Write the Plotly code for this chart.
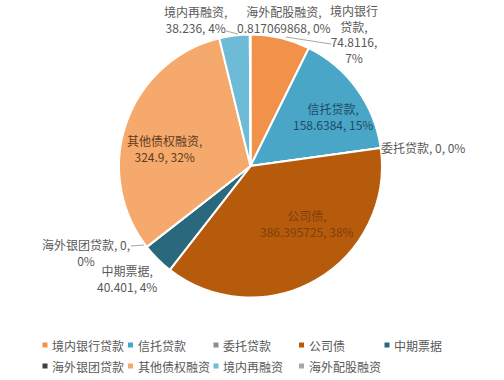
import plotly.graph_objects as go

categories = ["境内银行贷款", "信托贷款", "委托贷款", "公司债", "中期票据",
              "海外银团贷款", "其他债权融资", "境内再融资", "海外配股融资"]
values = [74.8116, 158.6384, 0, 386.395725, 40.401, 0, 324.9, 38.236, 0.817069868]
value_labels = ["74.8116", "158.6384", "0", "386.395725", "40.401", "0", "324.9", "38.236", "0.817069868"]
pct_labels = ["7%", "15%", "0%", "38%", "4%", "0%", "32%", "4%", "0%"]
colors = ["#F2914A", "#4AA6C6", "#8C8C8C", "#B65A0C", "#2A687E",
          "#3F3F3F", "#F5A96C", "#6DBBD6", "#A6A6A6"]

W, H = 504, 380

fig = go.Figure()
fig.add_trace(go.Pie(
    labels=categories, values=values, sort=False, direction="clockwise", rotation=0,
    marker=dict(colors=colors, line=dict(color="white", width=2)),
    textinfo="none", hoverinfo="label+value+percent", showlegend=False,
    domain=dict(x=[0.236, 0.758], y=[0.217, 0.909]),
))

def px(x):
    return x / W

def py(y):
    return 1 - y / H

# label layout (pixel centres) and line breaks per category
label_pos = {
    "境内银行贷款": (354, 34, "境内银行<br>贷款,<br>{v},<br>{p}", "#595959"),
    "信托贷款": (333, 116, "{c},<br>{v}, {p}", "#1E4C66"),
    "委托贷款": (423, 147, "{c}, {v}, {p}", "#595959"),
    "公司债": (307, 223, "{c},<br>{v}, {p}", "#7E410C"),
    "中期票据": (127, 278, "{c},<br>{v}, {p}", "#595959"),
    "海外银团贷款": (86, 253, "{c}, {v},<br>{p}", "#595959"),
    "其他债权融资": (164, 148, "{c},<br>{v}, {p}", "#603C20"),
    "境内再融资": (195, 20, "{c},<br>{v}, {p}", "#595959"),
    "海外配股融资": (284, 20, "{c},<br>{v}, {p}", "#595959"),
}

annotations = []
for c, v, p in zip(categories, value_labels, pct_labels):
    x, y, tpl, col = label_pos[c]
    annotations.append(dict(
        x=px(x), y=py(y), xref="paper", yref="paper", showarrow=False,
        text=tpl.format(c=c, v=v, p=p), align="center",
        xanchor="center", yanchor="middle",
        font=dict(family="Noto Sans CJK SC", size=12, color=col),
    ))

shapes = []
# leader lines
for (x0, y0, x1, y1) in [(226, 31, 238, 34), (286, 37, 331, 44), (131, 246, 144, 245)]:
    shapes.append(dict(type="line", xref="paper", yref="paper",
                       x0=px(x0), y0=py(y0), x1=px(x1), y1=py(y1),
                       line=dict(color="#A6A6A6", width=1)))

# legend (two rows, five columns)
col_x = [45, 130.5, 216, 301.5, 387]
row_y = [345, 366]
for i, (c, col) in enumerate(zip(categories, colors)):
    r, k = divmod(i, 5)
    mx, my = col_x[k], row_y[r]
    shapes.append(dict(type="rect", xref="paper", yref="paper",
                       x0=px(mx - 2.5), x1=px(mx + 2.5), y0=py(my + 2.5), y1=py(my - 2.5),
                       fillcolor=col, line=dict(width=0)))
    annotations.append(dict(
        x=px(mx + 5), y=py(my), xref="paper", yref="paper", showarrow=False,
        text=c, xanchor="left", yanchor="middle",
        font=dict(family="Noto Sans CJK SC", size=12, color="#595959"),
    ))

fig.update_layout(
    width=W, height=H, margin=dict(l=0, r=0, t=0, b=0),
    paper_bgcolor="white", plot_bgcolor="white",
    annotations=annotations, shapes=shapes,
)

fig.write_html("out.html", config={"displayModeBar": False},
               post_script="document.body.style.margin='0';document.body.style.overflow='hidden';")
